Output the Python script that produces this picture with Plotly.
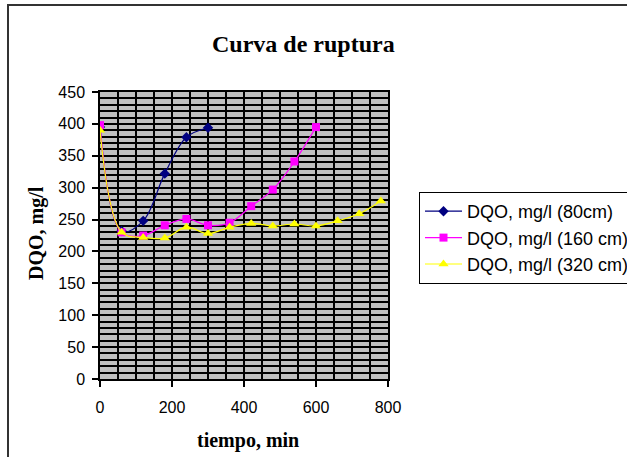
import plotly.graph_objects as go

# Data
t_80 = [0, 60, 120, 180, 240, 300]
dqo_80 = [395, 232, 248, 322, 379, 394]

t_160 = [0, 60, 120, 180, 240, 300, 360, 420, 480, 540, 600]
dqo_160 = [398, 230, 225, 241, 251, 241, 245, 271, 297, 341, 395]

t_320 = [0, 60, 120, 180, 240, 300, 360, 420, 480, 540, 600, 660, 720, 780]
dqo_320 = [390, 230, 222, 221, 238, 228, 238, 244, 240, 243, 240, 248, 259, 279]

names = ["DQO, mg/l (80cm)", "DQO, mg/l (160 cm)", "DQO, mg/l (320 cm)"]
x_ticks = [0, 200, 400, 600, 800]

W, H = 627, 457
L, R, T, B = 100, 388, 92, 379  # plot area in pixels
pw, ph = R - L, B - T

def px(x):
    return (x - L) / pw

def py(y):
    return (B - y) / ph

fig = go.Figure()
fig.add_trace(go.Scatter(
    x=t_80, y=dqo_80, name=names[0], mode="lines+markers",
    line=dict(color="#000080", width=1.2, shape="spline", smoothing=1),
    marker=dict(symbol="diamond", size=8, color="#000080"),
))
fig.add_trace(go.Scatter(
    x=t_160, y=dqo_160, name=names[1], mode="lines+markers",
    line=dict(color="#FF00FF", width=1.2, shape="spline", smoothing=1),
    marker=dict(symbol="square", size=8, color="#FF00FF"),
))
fig.add_trace(go.Scatter(
    x=t_320, y=dqo_320, name=names[2], mode="lines+markers",
    line=dict(color="#FFFF00", width=1.2, shape="spline", smoothing=1),
    marker=dict(symbol="triangle-up", size=9, color="#FFFF00"),
))

tick_font = dict(family="Liberation Sans, Arial, sans-serif", size=16, color="black")

fig.update_layout(
    width=W, height=H,
    margin=dict(l=L, r=W - R, t=T, b=H - B, pad=0, autoexpand=False),
    paper_bgcolor="white",
    plot_bgcolor="#C0C0C0",
    showlegend=True,
    legend=dict(
        x=px(419), y=py(192), xanchor="left", yanchor="top",
        bgcolor="white", bordercolor="black", borderwidth=1,
        font=dict(family="Liberation Sans, Arial, sans-serif", size=18, color="black"),
        itemwidth=37,
    ),
    xaxis=dict(
        range=[0, 800], tickvals=x_ticks, ticktext=[str(v) for v in x_ticks],
        showgrid=True, gridcolor="black", gridwidth=1.5,
        minor=dict(dtick=50, showgrid=True, gridcolor="black", gridwidth=1.5, ticks=""),
        showline=True, linecolor="black", linewidth=1.5, mirror=True,
        ticks="outside", ticklen=6, tickcolor="black", tickwidth=1.5,
        tickfont=tick_font, ticklabelstandoff=7, zeroline=False,
    ),
    yaxis=dict(
        range=[0, 450], dtick=50, tick0=0,
        showgrid=True, gridcolor="black", gridwidth=1.5,
        minor=dict(dtick=10, showgrid=True, gridcolor="black", gridwidth=1.5, ticks=""),
        showline=True, linecolor="black", linewidth=1.5, mirror=True,
        ticks="outside", ticklen=6, tickcolor="black", tickwidth=1.5,
        tickfont=tick_font, ticklabelstandoff=4, zeroline=False,
    ),
    shapes=[dict(
        type="rect", xref="paper", yref="paper",
        x0=px(8), x1=px(660), y0=py(480), y1=py(5),
        line=dict(color="#333333", width=2), fillcolor="rgba(0,0,0,0)", layer="below",
    )],
    annotations=[
        dict(text="<b>Curva de ruptura</b>", xref="paper", yref="paper",
             x=px(303), y=py(44), xanchor="center", yanchor="middle", showarrow=False,
             font=dict(family="Liberation Serif, Times New Roman, serif", size=24, color="black")),
        dict(text="<b>DQO, mg/l</b>", xref="paper", yref="paper", textangle=-90,
             x=px(36), y=py(233), xanchor="center", yanchor="middle", showarrow=False,
             font=dict(family="Liberation Serif, Times New Roman, serif", size=20, color="black")),
        dict(text="<b>tiempo, min</b>", xref="paper", yref="paper",
             x=px(248), y=py(440), xanchor="center", yanchor="middle", showarrow=False,
             font=dict(family="Liberation Serif, Times New Roman, serif", size=20, color="black")),
    ],
)

fig.write_html("out.html")
